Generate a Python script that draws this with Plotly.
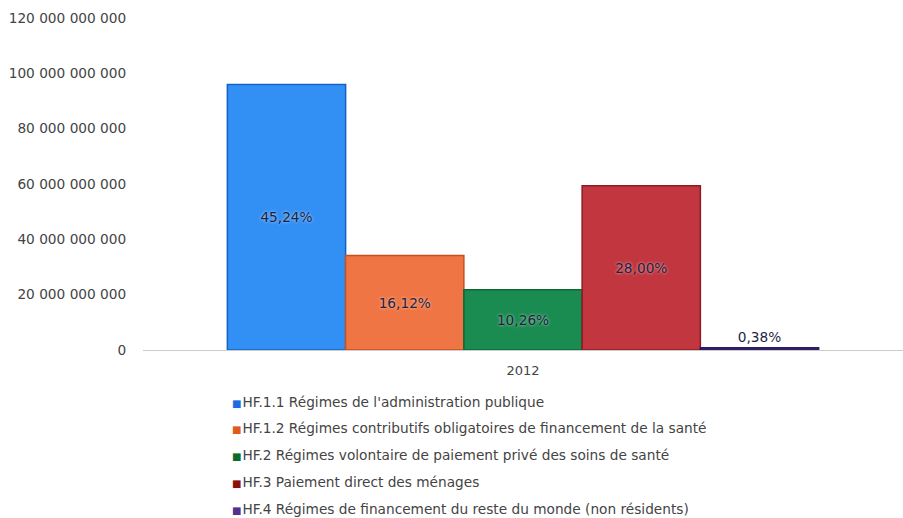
import plotly.graph_objects as go

# --------------------------------------------------------
# Data
# --------------------------------------------------------

year = ["2012"]

series_names = [
    "HF.1.1 Régimes de l'administration publique",
    "HF.1.2 Régimes contributifs obligatoires de financement de la santé",
    "HF.2 Régimes volontaire de paiement privé des soins de santé",
    "HF.3 Paiement direct des ménages",
    "HF.4 Régimes de financement du reste du monde (non résidents)",
]

values = [96.0e9, 34.2e9, 21.8e9, 59.4e9, 0.81e9]

shares = ["45,24%", "16,12%", "10,26%", "28,00%", "0,38%"]

tick_values = [0, 20e9, 40e9, 60e9, 80e9, 100e9, 120e9]

# --------------------------------------------------------
# Styles
# --------------------------------------------------------

bar_colors = ["#3290f4", "#f07544", "#1b8c51", "#c2363f", "#3a2670"]
line_colors = ["#1660c8", "#c8501e", "#0b6a34", "#8c1c22", "#2a1a60"]
legend_colors = ["#1a6ee0", "#e05a20", "#0a6a30", "#8a1010", "#503090"]

FONT = "Verdana, DejaVu Sans, sans-serif"
SIZE = 13.7

fig = go.Figure()

for i, name in enumerate(series_names):

    small = values[i] < 5e9

    fig.add_trace(
        go.Bar(
            x=year,
            y=[values[i]],
            name=name,
            text=[shares[i]],
            textposition="outside" if small else "inside",
            insidetextanchor="middle",
            constraintext="none",
            textfont=dict(family=FONT, size=SIZE, color="#1f1f3f",
                          shadow="0px 0px 3px rgba(255,255,255,0.7)"),
            cliponaxis=False,
            marker=dict(color=bar_colors[i],
                        line=dict(color=line_colors[i], width=1.5)),
            showlegend=False,
        )
    )

# --------------------------------------------------------
# Legend drawn as text rows under the chart
# --------------------------------------------------------

plot_top = 18
plot_bottom = 350
plot_h = plot_bottom - plot_top
row_y = [402, 428, 455, 482, 509]

for i, name in enumerate(series_names):

    fig.add_annotation(
        xref="paper",
        yref="paper",
        x=(230 - 143) / 760,
        y=(plot_bottom - row_y[i]) / plot_h,
        xanchor="left",
        yanchor="middle",
        showarrow=False,
        align="left",
        text=f"<span style='color:{legend_colors[i]};font-size:10px'>■</span>"
             f"<span style='font-size:3px'> </span>{name}",
        font=dict(family=FONT, size=SIZE, color="#444444"),
    )

fig.update_layout(
    width=903,
    height=518,
    margin=dict(l=143, r=0, t=plot_top, b=518 - plot_bottom),
    paper_bgcolor="white",
    plot_bgcolor="white",
    barmode="group",
    bargap=0.222,
    bargroupgap=0,
    separators=", ",
    font=dict(family=FONT, size=SIZE, color="#444444"),
    xaxis=dict(
        showline=True,
        linecolor="#cccccc",
        linewidth=1,
        ticks="outside",
        ticklen=8,
        tickcolor="rgba(0,0,0,0)",
        tickfont=dict(family=FONT, size=13, color="#444444"),
        showgrid=False,
    ),
    yaxis=dict(
        range=[0, 120e9],
        tickvals=tick_values,
        tickformat=",d",
        showgrid=False,
        zeroline=False,
        showline=False,
        ticks="outside",
        ticklen=13,
        tickcolor="rgba(0,0,0,0)",
        tickfont=dict(family=FONT, size=SIZE, color="#444444"),
    ),
)

fig.write_html("out.html", config={"displayModeBar": False},
               post_script="document.body.style.margin='0';")
